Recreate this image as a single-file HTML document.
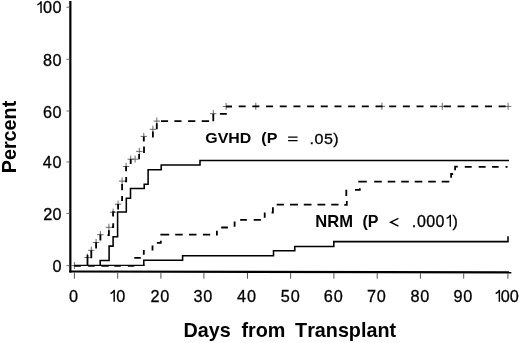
<!DOCTYPE html>
<html><head><meta charset="utf-8"><style>
html,body{margin:0;padding:0;background:#fff;}
body{width:520px;height:343px;overflow:hidden;}
svg{display:block;will-change:transform;}
text{font-family:"Liberation Sans",sans-serif;fill:#000;font-kerning:none;}
text.r{stroke:#000;stroke-width:0.3px;}
</style></head><body>
<svg width="520" height="343" viewBox="0 0 520 343">
<path d="M70.35 1 V272.6" stroke="#000" stroke-width="2.2" fill="none"/>
<path d="M69.3 271.5 L511.3 272.4" stroke="#000" stroke-width="2.1" fill="none"/>
<path d="M66.5 265.60 H69.5" stroke="#666" stroke-width="1" fill="none"/>
<path d="M66.5 213.40 H69.5" stroke="#666" stroke-width="1" fill="none"/>
<path d="M66.5 162.00 H69.5" stroke="#666" stroke-width="1" fill="none"/>
<path d="M66.5 111.00 H69.5" stroke="#666" stroke-width="1" fill="none"/>
<path d="M66.5 59.30 H69.5" stroke="#666" stroke-width="1" fill="none"/>
<path d="M66.5 7.20 H69.5" stroke="#666" stroke-width="1" fill="none"/>
<path d="M74.40 272.51 V278.7" stroke="#555" stroke-width="1" fill="none"/>
<path d="M117.70 272.60 V278.7" stroke="#555" stroke-width="1" fill="none"/>
<path d="M160.90 272.69 V278.7" stroke="#555" stroke-width="1" fill="none"/>
<path d="M203.90 272.77 V278.7" stroke="#555" stroke-width="1" fill="none"/>
<path d="M247.50 272.86 V278.7" stroke="#555" stroke-width="1" fill="none"/>
<path d="M290.60 272.95 V278.7" stroke="#555" stroke-width="1" fill="none"/>
<path d="M333.90 273.04 V278.7" stroke="#555" stroke-width="1" fill="none"/>
<path d="M377.20 273.13 V278.7" stroke="#555" stroke-width="1" fill="none"/>
<path d="M420.40 273.21 V278.7" stroke="#555" stroke-width="1" fill="none"/>
<path d="M463.70 273.30 V278.7" stroke="#555" stroke-width="1" fill="none"/>
<path d="M507.90 273.39 V278.7" stroke="#555" stroke-width="1" fill="none"/>
<path d="M71.2 265.6 H77.6 M74.4 262.0 V269.0 M84.3 257.5 H90.7 M87.5 253.9 V260.9 M88.1 250.3 H94.5 M91.3 246.7 V253.7 M92.9 242.5 H99.3 M96.1 238.9 V245.9 M97.2 234.7 H103.6 M100.4 231.1 V238.1 M105.7 227.3 H112.1 M108.9 223.7 V230.7 M109.9 212.2 H116.3 M113.1 208.6 V215.6 M114.9 204.2 H121.3 M118.1 200.6 V207.6 M118.9 181.1 H125.3 M122.1 177.5 V184.5 M122.9 166.5 H129.3 M126.1 162.9 V169.9 M127.5 159.2 H133.9 M130.7 155.6 V162.6 M131.9 159.2 H138.3 M135.1 155.6 V162.6 M136.1 151.4 H142.5 M139.3 147.8 V154.8 M140.6 136.4 H147.0 M143.8 132.8 V139.8 M149.7 129.3 H156.1 M152.9 125.7 V132.7 M153.6 121.1 H160.0 M156.8 117.5 V124.5 M210.1 113.7 H216.5 M213.3 110.1 V117.1 M222.9 106.5 H229.3 M226.1 102.9 V109.9 M252.6 106.4 H259.0 M255.8 102.8 V109.8 M378.7 106.4 H385.1 M381.9 102.8 V109.8 M439.1 106.4 H445.5 M442.3 102.8 V109.8 M504.9 106.4 H511.3 M508.1 102.8 V109.8" stroke="#5a5a5a" stroke-width="0.9" fill="none"/>
<path d="M74.3 265.4 H144.6" stroke="#000" stroke-width="1.4" fill="none"/>
<path d="M74.3 266.0 H80.9 M88.2 266.0 H94.6 M101.4 266.0 H108.8 M114.3 266.0 H120.8 M127.8 266.0 H134.3" stroke="#000" stroke-width="1.5" fill="none"/>
<path d="M100.2 265.4 V260.5 H109.1 V246.1 H113.1 V236.8 H117.6 V211.9 H126.3 V198.2 H130.5 V188.5 H144.2 V184.2 H148.1 V169.7 H161.2 V165 H200 V160.5 H509" stroke="#000" stroke-width="1.55" fill="none"/>
<path d="M143.8 265.4 V260.3 H182.6 V255.8 H273.5 V250.8 H294.8 V246.4 H333.8 V241.6 H508 V236.3" stroke="#000" stroke-width="1.55" fill="none"/>
<path d="M87.5 265.8 V254.8 M90.4 257.4 H91.3 V250.3 M96.1 248.6 V242.3 M100.4 240.6 V234.6 M107.5 235.2 H108.9 V230.3 M112 227.2 H113.2 V223.3 M113.1 216.6 V212.2 H114.6 M118.1 209.4 V204.1 M122.1 200.9 V196.1 M122.1 190.2 V183.9 M124.9 181.3 H126.2 V177.1 M126.1 171.3 V166.3 M130.7 164 V159.1 M139.1 159.3 V154 M143.1 152 H144 V146.4 M143.8 141.6 V136.4 M152.9 137.5 V131.6 M156.8 129.3 V123.3 M161 121.2 H168.1 M174.4 121.2 H181.5 M188.1 121.2 H195.3 M201.7 121.2 H209.1 M213.3 121.2 V113.7 M219.9 113.8 H226.8 M226.1 106.5 H232 M238.7 106.4 H245.7 M252.38 106.4 H259.38 M266.06 106.4 H273.06 M279.74 106.4 H286.74 M293.42 106.4 H300.42 M307.1 106.4 H314.1 M320.78 106.4 H327.78 M334.46 106.4 H341.46 M348.14 106.4 H355.14 M361.82 106.4 H368.82 M375.5 106.4 H382.5 M389.18 106.4 H396.18 M402.86 106.4 H409.86 M416.54 106.4 H423.54 M430.22 106.4 H437.22 M443.9 106.4 H450.9 M457.58 106.4 H464.58 M471.26 106.4 H478.26 M484.94 106.4 H491.94 M498.62 106.4 H505.62 M134.3 257.8 H140.8 M143.8 254.7 V249.9 M152.5 250.4 V245.5 M156.9 242.9 H160.8 V240.7 M160.4 234.7 H169.2 M175.2 234.7 H182.7 M189 234.7 H196.5 M202.9 234.7 H210.2 M216.9 235.5 V230.8 M221.2 227.5 H227.9 M234.6 226.7 V221.5 M240.2 219.8 H246.9 M253.7 219.8 H260.9 M264.7 217.8 V212.5 M271.6 212.5 H272.9 V207.3 M276.7 204.6 H283.9 M290 204.6 H298 M303.8 204.6 H311.5 M317.5 204.6 H325.3 M331.2 204.6 H338.5 M344.3 204.8 H346.8 V201 M346.3 195.9 V189.8 M355 189.8 H359.8 V188.3 M359.2 182.6 V181.6 H366.8 M374.2 181.6 H381.8 M387.7 181.6 H395.3 M401.2 181.6 H408.8 M414.7 181.6 H422.3 M428.2 181.6 H435.8 M441.7 181.6 H449.3 M451.1 177.8 V174 H453.1 M455.1 170.2 V166.7 H457.8 M464.8 166.8 H471.7 M478.7 166.8 H485.6 M492.1 166.8 H498.6 M505.5 166.8 H507.5" stroke="#000" stroke-width="1.8" fill="none"/>
<path d="M37.34 4.84 Q39.64 4.06 41.04 1.81 V13.05" stroke="#000" stroke-width="1.45" fill="none" stroke-linejoin="round"/>
<text class="r" x="43.03" y="13.05" font-size="16.25" font-weight="normal">0</text>
<text class="r" x="52.50" y="13.05" font-size="16.25" font-weight="normal">0</text>
<text class="r" x="43.10" y="65.85" font-size="16.25" font-weight="normal">8</text>
<text class="r" x="52.50" y="65.85" font-size="16.25" font-weight="normal">0</text>
<text class="r" x="43.11" y="117.55" font-size="16.25" font-weight="normal">6</text>
<text class="r" x="52.50" y="117.55" font-size="16.25" font-weight="normal">0</text>
<text class="r" x="42.87" y="168.15" font-size="16.25" font-weight="normal">4</text>
<text class="r" x="52.50" y="168.15" font-size="16.25" font-weight="normal">0</text>
<text class="r" x="43.21" y="219.75" font-size="16.25" font-weight="normal">2</text>
<text class="r" x="52.50" y="219.75" font-size="16.25" font-weight="normal">0</text>
<text class="r" x="52.50" y="272.05" font-size="16.25" font-weight="normal">0</text>
<text class="r" x="68.98" y="301.70" font-size="16.25" font-weight="normal">0</text>
<path d="M110.49 293.49 Q112.79 292.71 114.19 290.46 V301.70" stroke="#000" stroke-width="1.45" fill="none" stroke-linejoin="round"/>
<text class="r" x="116.18" y="301.70" font-size="16.25" font-weight="normal">0</text>
<text class="r" x="150.45" y="301.70" font-size="16.25" font-weight="normal">2</text>
<text class="r" x="160.24" y="301.70" font-size="16.25" font-weight="normal">0</text>
<text class="r" x="193.45" y="301.70" font-size="16.25" font-weight="normal">3</text>
<text class="r" x="203.33" y="301.70" font-size="16.25" font-weight="normal">0</text>
<text class="r" x="236.95" y="301.70" font-size="16.25" font-weight="normal">4</text>
<text class="r" x="247.08" y="301.70" font-size="16.25" font-weight="normal">0</text>
<text class="r" x="280.72" y="301.70" font-size="16.25" font-weight="normal">5</text>
<text class="r" x="290.63" y="301.70" font-size="16.25" font-weight="normal">0</text>
<text class="r" x="323.84" y="301.70" font-size="16.25" font-weight="normal">6</text>
<text class="r" x="333.73" y="301.70" font-size="16.25" font-weight="normal">0</text>
<text class="r" x="366.99" y="301.70" font-size="16.25" font-weight="normal">7</text>
<text class="r" x="376.78" y="301.70" font-size="16.25" font-weight="normal">0</text>
<text class="r" x="410.40" y="301.70" font-size="16.25" font-weight="normal">8</text>
<text class="r" x="420.30" y="301.70" font-size="16.25" font-weight="normal">0</text>
<text class="r" x="453.50" y="301.70" font-size="16.25" font-weight="normal">9</text>
<text class="r" x="463.34" y="301.70" font-size="16.25" font-weight="normal">0</text>
<path d="M495.67 293.49 Q497.97 292.71 499.37 290.46 V301.70" stroke="#000" stroke-width="1.45" fill="none" stroke-linejoin="round"/>
<text class="r" x="500.67" y="301.70" font-size="16.25" font-weight="normal">0</text>
<text class="r" x="509.73" y="301.70" font-size="16.25" font-weight="normal">0</text>
<text x="183.58" y="336.70" font-size="19.75" font-weight="bold">Days</text>
<text x="241.46" y="336.70" font-size="19.75" font-weight="bold">from</text>
<text x="295.08" y="336.70" font-size="19.75" font-weight="bold">Transplant</text>
<text transform="translate(15.7,173.22) rotate(-90)" font-size="19.75" font-weight="bold">Percent</text>
<text transform="translate(205.35,143.20) scale(1.048,1)" font-size="15.2" font-weight="bold">GVHD</text>
<text transform="translate(261.30,143.20) scale(1.055,1)" font-size="15.2" font-weight="bold">(P</text>
<path d="M288.1 137.1 H297.6 M288.1 140.5 H297.6" stroke="#000" stroke-width="1.25" fill="none"/>
<text class="r" transform="translate(309.44,143.50) scale(1.07,1)" font-size="15" font-weight="normal" letter-spacing="0.5">.05)</text>
<text transform="translate(315.29,226.80) scale(1.035,1)" font-size="16" font-weight="bold">NRM</text>
<text x="362.40" y="226.80" font-size="16" font-weight="bold">(P</text>
<path d="M398.4 218.4 L390.7 222.2 L398.4 226.1" stroke="#000" stroke-width="1.5" fill="none" stroke-linejoin="miter"/>
<text class="r" x="411.64" y="226.70" font-size="16" font-weight="normal">.</text>
<text class="r" x="416.98" y="226.70" font-size="16" font-weight="normal">0</text>
<text class="r" x="426.28" y="226.70" font-size="16" font-weight="normal">0</text>
<text class="r" x="435.38" y="226.70" font-size="16" font-weight="normal">0</text>
<path d="M446.60 218.45 Q448.90 217.66 450.30 215.40 V226.70" stroke="#000" stroke-width="1.4" fill="none" stroke-linejoin="round"/>
<text class="r" x="452.50" y="226.70" font-size="16" font-weight="normal">)</text>
</svg>
</body></html>
